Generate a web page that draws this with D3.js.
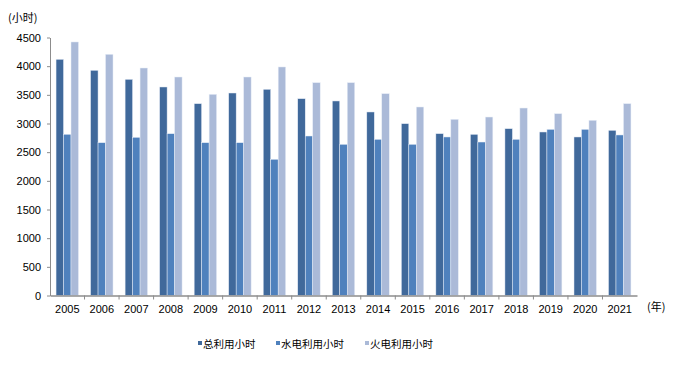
<!DOCTYPE html>
<html>
<head>
<meta charset="utf-8">
<script src="https://cdn.jsdelivr.net/npm/d3@7"></script>
<style>
  body { margin: 0; background: #fff; }
</style>
</head>
<body>
<div id="chart"></div>
<script>
var years = ["2005", "2006", "2007", "2008", "2009", "2010", "2011", "2012", "2013",
             "2014", "2015", "2016", "2017", "2018", "2019", "2020", "2021"];
var seriesNames = ["总利用小时", "水电利用小时", "火电利用小时"];
var totalHours = [4120, 3928, 3771, 3637, 3346, 3532, 3597, 3433, 3393, 3201, 2997, 2823, 2811, 2910, 2852, 2765, 2881];
var hydroHours = [2812, 2665, 2759, 2822, 2665, 2665, 2376, 2782, 2637, 2724, 2637, 2765, 2677, 2724, 2898, 2898, 2800];
var thermalHours = [4422, 4207, 3968, 3811, 3509, 3811, 3986, 3712, 3712, 3520, 3288, 3073, 3113, 3270, 3171, 3056, 3346];
var yTicks = [0, 500, 1000, 1500, 2000, 2500, 3000, 3500, 4000, 4500];

var width = 677, height = 369;
var margin = {top: 37.5, left: 50, right: 40, bottom: 73.5};
var colors = ["#40699b", "#4f81bd", "#abbad8"];
var font = "'Liberation Sans', Arial, sans-serif";
var cjk = "'Noto Sans CJK SC', sans-serif";

var series = [totalHours, hydroHours, thermalHours];

var svg = d3.select("#chart").append("svg")
    .attr("width", width)
    .attr("height", height);

var x = d3.scaleBand()
    .domain(years)
    .range([margin.left, width - margin.right])
    .paddingInner(0.35)
    .paddingOuter(0.175);

var x1 = d3.scaleBand()
    .domain(d3.range(series.length))
    .range([0, x.bandwidth()]);

var y = d3.scaleLinear()
    .domain([0, 4500])
    .range([height - margin.bottom, margin.top]);

// bars
var groups = svg.append("g").selectAll("g")
    .data(years)
  .enter().append("g")
    .attr("transform", function (d) { return "translate(" + x(d) + ",0)"; });

groups.selectAll("rect")
    .data(function (d, i) { return series.map(function (s, k) { return {k: k, v: s[i]}; }); })
  .enter().append("rect")
    .attr("x", function (d) { return x1(d.k); })
    .attr("y", function (d) { return y(d.v); })
    .attr("width", x1.bandwidth())
    .attr("height", function (d) { return y(0) - y(d.v); })
    .attr("fill", function (d) { return colors[d.k]; })
    .attr("stroke", "#e8eef7")
    .attr("stroke-width", 0.5);

// y axis
var yAxis = svg.append("g")
    .attr("transform", "translate(" + margin.left + ",0)")
    .call(d3.axisLeft(y).tickValues(yTicks).tickFormat(d3.format("d"))
      .tickSize(3).tickPadding(6).tickSizeOuter(0));
yAxis.select(".domain").attr("stroke", "#8c8c8c");
yAxis.selectAll(".tick line").attr("stroke", "#8c8c8c");
yAxis.selectAll("text")
    .attr("font-family", font)
    .attr("font-size", "11px")
    .attr("fill", "#000");

// x axis
var xAxis = svg.append("g")
    .attr("transform", "translate(0," + y(0) + ")")
    .call(d3.axisBottom(x).tickSize(0).tickPadding(10));
xAxis.select(".domain").attr("stroke", "#8c8c8c").attr("stroke-width", 1.5);
xAxis.selectAll("text")
    .attr("font-family", font)
    .attr("font-size", "11px")
    .attr("fill", "#000");

// category separators
svg.append("g").selectAll("line")
    .data(years.slice(1))
  .enter().append("line")
    .attr("x1", function (d) { return x(d) - x.step() * x.paddingInner() / 2; })
    .attr("x2", function (d) { return x(d) - x.step() * x.paddingInner() / 2; })
    .attr("y1", y(0))
    .attr("y2", y(0) + 4)
    .attr("stroke", "#8c8c8c");

// unit labels
svg.append("text")
    .attr("x", 8)
    .attr("y", 22)
    .attr("font-family", cjk)
    .attr("font-size", "11px")
    .text("(小时)");

svg.append("text")
    .attr("x", 647)
    .attr("y", 311)
    .attr("font-family", cjk)
    .attr("font-size", "11px")
    .text("(年)");

// legend
var legendX = [198, 276, 365];
var legend = svg.append("g").selectAll("g")
    .data(seriesNames)
  .enter().append("g")
    .attr("transform", function (d, i) { return "translate(" + legendX[i] + ",344)"; });

legend.append("rect")
    .attr("x", 0)
    .attr("y", -3)
    .attr("width", 4)
    .attr("height", 4)
    .attr("fill", function (d, i) { return colors[i]; });

legend.append("text")
    .attr("x", 5)
    .attr("y", 3.5)
    .attr("font-family", cjk)
    .attr("font-size", "10.5px")
    .text(function (d) { return d; });
</script>
</body>
</html>
